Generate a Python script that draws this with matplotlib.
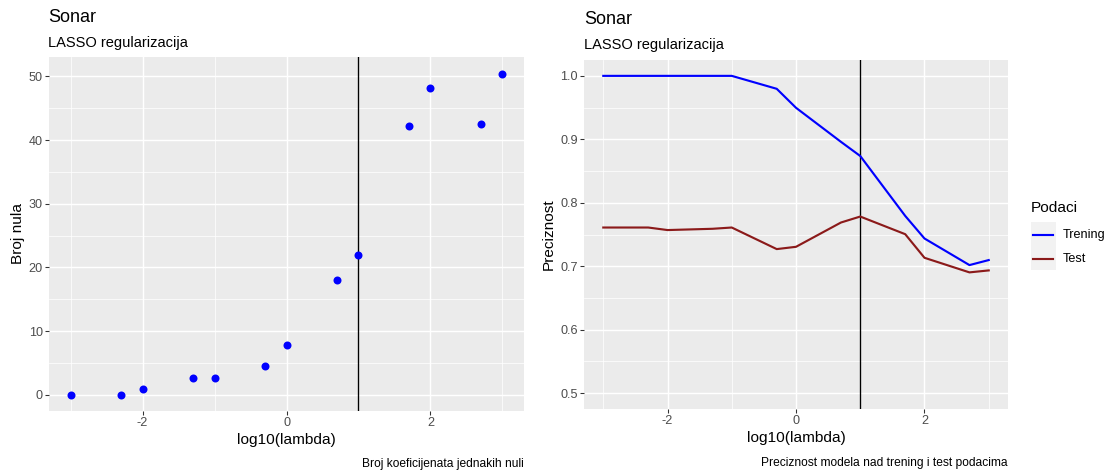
import matplotlib
matplotlib.use("Agg")
import matplotlib.pyplot as plt
from matplotlib.lines import Line2D
from matplotlib.patches import Rectangle
from matplotlib.ticker import MultipleLocator, FormatStrFormatter

plt.rcParams['font.family'] = ['Liberation Sans', 'DejaVu Sans']
plt.rcParams['axes.unicode_minus'] = False

log_lambda = [-3, -2.3, -2, -1.3, -1, -0.3, 0, 0.7, 1, 1.7, 2, 2.7, 3]
broj_nula = [0, 0, 0.9, 2.7, 2.7, 4.5, 7.85, 18.0, 21.9, 42.2, 48.2, 42.55, 50.4]
trening = [1.0, 1.0, 1.0, 1.0, 1.0, 0.9796, 0.9497, 0.896, 0.8737, 0.7793, 0.7437, 0.7018, 0.7097]
test = [0.761, 0.761, 0.757, 0.759, 0.761, 0.727, 0.7306, 0.7689, 0.7783, 0.7505, 0.7133, 0.6903, 0.6934]
best_log_lambda = 1

W, H = 1111, 475
DPI = 96
fig = plt.figure(figsize=(W / DPI, H / DPI), dpi=DPI)

PANEL = '#EBEBEB'
TICKC = '#4D4D4D'
TESTC = '#8B1A1A'


def px_axes(x0, y0, x1, y1):
    return fig.add_axes([x0 / W, 1 - y1 / H, (x1 - x0) / W, (y1 - y0) / H])


def style(ax):
    ax.set_facecolor(PANEL)
    for s in ax.spines.values():
        s.set_visible(False)
    ax.grid(which='major', color='white', linewidth=1.1)
    ax.grid(which='minor', color='white', linewidth=0.55)
    ax.set_axisbelow(True)
    ax.tick_params(which='major', length=2.75, width=0.8, color='#333333',
                   labelsize=9.5, labelcolor=TICKC, pad=2)
    ax.tick_params(which='minor', length=0)
    ax.xaxis.set_major_locator(MultipleLocator(2))
    ax.xaxis.set_minor_locator(MultipleLocator(1))
    ax.set_xlim(-3.3, 3.3)


# Left panel
ax1 = px_axes(49, 57, 524, 411)
style(ax1)
ax1.scatter(log_lambda, broj_nula, s=36, color='blue', zorder=3, linewidths=0)
ax1.axvline(best_log_lambda, color='black', linewidth=1.0, zorder=2)
ax1.set_ylim(-2.525, 53.03)
ax1.yaxis.set_major_locator(MultipleLocator(10))
ax1.yaxis.set_minor_locator(MultipleLocator(5))
ax1.set_xlabel('log10(lambda)', fontsize=11.5, labelpad=3)
ax1.set_ylabel('Broj nula', fontsize=11.5, labelpad=3)
fig.text(48 / W, 1 - 18 / H, 'Sonar', fontsize=13.5, va='center', ha='left')
fig.text(48 / W, 1 - 43 / H, 'LASSO regularizacija', fontsize=11, va='center', ha='left')
fig.text(524 / W, 1 - 464 / H, 'Broj koeficijenata jednakih nuli', fontsize=9,
         va='center', ha='right')

# Right panel
ax2 = px_axes(584, 60, 1008, 409)
style(ax2)
ax2.plot(log_lambda, trening, color='blue', linewidth=1.6, zorder=3)
ax2.plot(log_lambda, test, color=TESTC, linewidth=1.6, zorder=3)
ax2.axvline(best_log_lambda, color='black', linewidth=1.0, zorder=2)
ax2.set_ylim(0.475, 1.025)
ax2.yaxis.set_major_locator(MultipleLocator(0.1))
ax2.yaxis.set_minor_locator(MultipleLocator(0.05))
ax2.yaxis.set_major_formatter(FormatStrFormatter('%.1f'))
ax2.set_xlabel('log10(lambda)', fontsize=11.5, labelpad=3)
ax2.set_ylabel('Preciznost', fontsize=11.5, labelpad=3)
fig.text(584 / W, 1 - 20 / H, 'Sonar', fontsize=13.5, va='center', ha='left')
fig.text(584 / W, 1 - 45 / H, 'LASSO regularizacija', fontsize=11, va='center', ha='left')
fig.text(1008 / W, 1 - 463 / H, 'Preciznost modela nad trening i test podacima',
         fontsize=9, va='center', ha='right')

# Legend (ggplot style)
fig.text(1031 / W, 1 - 208 / H, 'Podaci', fontsize=11.5, va='center', ha='left')
fig.patches.append(Rectangle((1031 / W, 1 - 270 / H), 25 / W, 48 / H,
                             transform=fig.transFigure, facecolor='#F2F2F2',
                             edgecolor='none'))
for yy, col, lab in [(235, 'blue', 'Trening'), (259, TESTC, 'Test')]:
    fig.lines.append(Line2D([1033 / W, 1053 / W], [1 - yy / H, 1 - yy / H],
                            transform=fig.transFigure, color=col, linewidth=1.6))
    fig.text(1063 / W, 1 - yy / H, lab, fontsize=9.5, va='center', ha='left')

fig.savefig('out.png', dpi=DPI)
